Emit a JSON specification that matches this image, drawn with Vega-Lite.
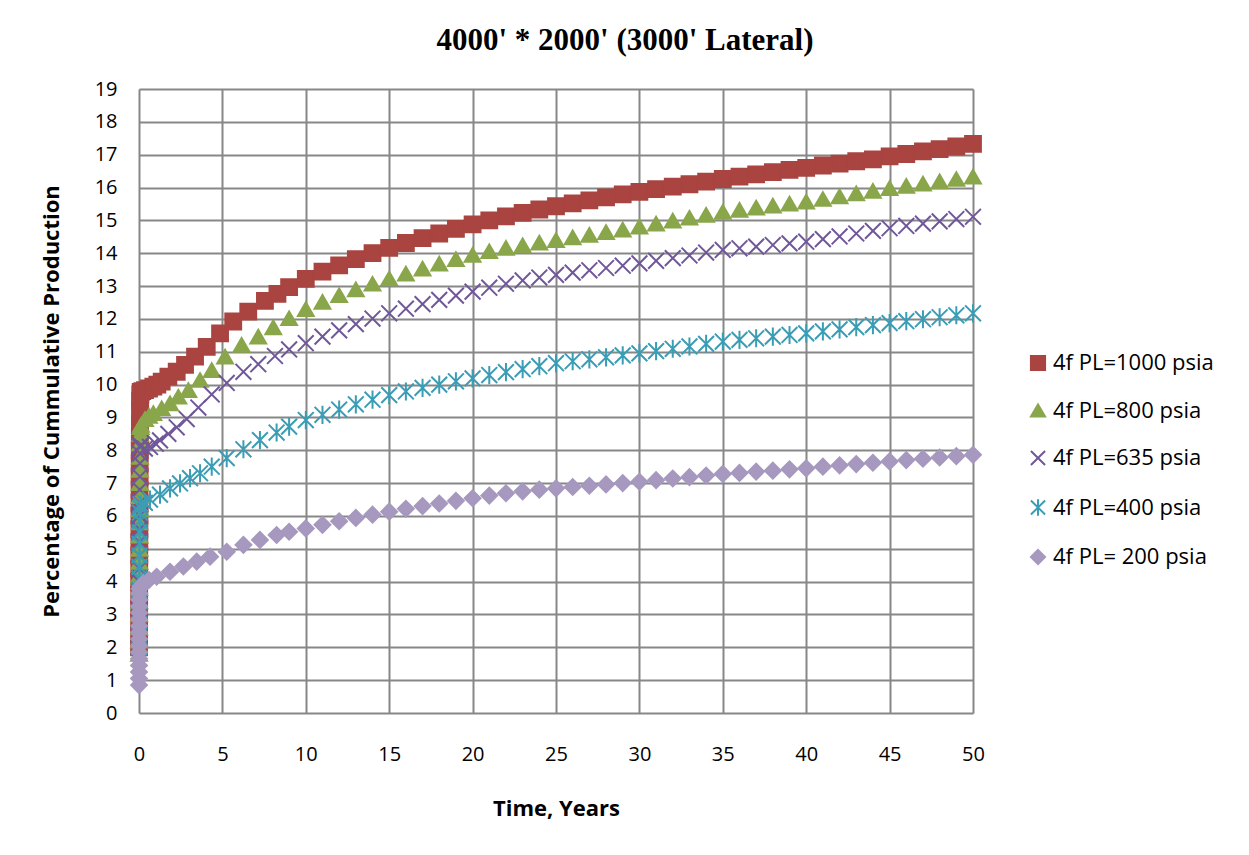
{
"$schema": "https://vega.github.io/schema/vega-lite/v6.json",
"width": 834, "height": 624,
"autosize": "none",
"padding": {"left": 139, "top": 89, "right": 276, "bottom": 142},
"background": "white",
"title": {"text": "4000' * 2000' (3000' Lateral)", "font": "Liberation Serif", "fontSize": 31, "fontWeight": "bold", "color": "black", "anchor": "middle", "dx": 69, "offset": 22},
"data": {"values": [
{"s":"4f PL=1000 psia","t":0.002,"v":2.0},{"s":"4f PL=1000 psia","t":0.004,"v":2.4},{"s":"4f PL=1000 psia","t":0.006,"v":2.8},{"s":"4f PL=1000 psia","t":0.008,"v":3.2},{"s":"4f PL=1000 psia","t":0.01,"v":3.6},{"s":"4f PL=1000 psia","t":0.012,"v":4.0},{"s":"4f PL=1000 psia","t":0.015,"v":4.4},{"s":"4f PL=1000 psia","t":0.018,"v":4.8},{"s":"4f PL=1000 psia","t":0.021,"v":5.2},{"s":"4f PL=1000 psia","t":0.024,"v":5.6},{"s":"4f PL=1000 psia","t":0.027,"v":6.0},{"s":"4f PL=1000 psia","t":0.03,"v":6.4},{"s":"4f PL=1000 psia","t":0.034,"v":6.8},{"s":"4f PL=1000 psia","t":0.038,"v":7.2},{"s":"4f PL=1000 psia","t":0.042,"v":7.6},{"s":"4f PL=1000 psia","t":0.046,"v":8.0},{"s":"4f PL=1000 psia","t":0.05,"v":8.4},{"s":"4f PL=1000 psia","t":0.055,"v":8.8},{"s":"4f PL=1000 psia","t":0.06,"v":9.2},{"s":"4f PL=1000 psia","t":0.07,"v":9.5},{"s":"4f PL=1000 psia","t":0.08,"v":9.7},{"s":"4f PL=1000 psia","t":0.1,"v":9.78},
{"s":"4f PL=1000 psia","t":0.2,"v":9.8},{"s":"4f PL=1000 psia","t":0.36,"v":9.83},{"s":"4f PL=1000 psia","t":0.6,"v":9.88},{"s":"4f PL=1000 psia","t":0.86,"v":9.94},{"s":"4f PL=1000 psia","t":1.1,"v":10.0},{"s":"4f PL=1000 psia","t":1.36,"v":10.09},{"s":"4f PL=1000 psia","t":1.76,"v":10.24},{"s":"4f PL=1000 psia","t":2.26,"v":10.39},{"s":"4f PL=1000 psia","t":2.76,"v":10.6},{"s":"4f PL=1000 psia","t":3.36,"v":10.85},{"s":"4f PL=1000 psia","t":4.06,"v":11.15},{"s":"4f PL=1000 psia","t":4.86,"v":11.56},{"s":"4f PL=1000 psia","t":5.65,"v":11.92},{"s":"4f PL=1000 psia","t":6.55,"v":12.22},{"s":"4f PL=1000 psia","t":7.55,"v":12.55},{"s":"4f PL=1000 psia","t":8.3,"v":12.76},
{"s":"4f PL=1000 psia","t":9,"v":12.97},{"s":"4f PL=1000 psia","t":10,"v":13.22},{"s":"4f PL=1000 psia","t":11,"v":13.44},{"s":"4f PL=1000 psia","t":12,"v":13.63},{"s":"4f PL=1000 psia","t":13,"v":13.82},{"s":"4f PL=1000 psia","t":14,"v":14.0},{"s":"4f PL=1000 psia","t":15,"v":14.16},{"s":"4f PL=1000 psia","t":16,"v":14.31},{"s":"4f PL=1000 psia","t":17,"v":14.46},{"s":"4f PL=1000 psia","t":18,"v":14.6},{"s":"4f PL=1000 psia","t":19,"v":14.74},{"s":"4f PL=1000 psia","t":20,"v":14.88},{"s":"4f PL=1000 psia","t":21,"v":15.0},{"s":"4f PL=1000 psia","t":22,"v":15.12},{"s":"4f PL=1000 psia","t":23,"v":15.23},{"s":"4f PL=1000 psia","t":24,"v":15.33},{"s":"4f PL=1000 psia","t":25,"v":15.43},{"s":"4f PL=1000 psia","t":26,"v":15.52},{"s":"4f PL=1000 psia","t":27,"v":15.61},{"s":"4f PL=1000 psia","t":28,"v":15.7},{"s":"4f PL=1000 psia","t":29,"v":15.79},{"s":"4f PL=1000 psia","t":30,"v":15.87},{"s":"4f PL=1000 psia","t":31,"v":15.95},{"s":"4f PL=1000 psia","t":32,"v":16.03},{"s":"4f PL=1000 psia","t":33,"v":16.1},{"s":"4f PL=1000 psia","t":34,"v":16.18},{"s":"4f PL=1000 psia","t":35,"v":16.26},{"s":"4f PL=1000 psia","t":36,"v":16.33},{"s":"4f PL=1000 psia","t":37,"v":16.4},{"s":"4f PL=1000 psia","t":38,"v":16.47},{"s":"4f PL=1000 psia","t":39,"v":16.54},{"s":"4f PL=1000 psia","t":40,"v":16.6},{"s":"4f PL=1000 psia","t":41,"v":16.67},{"s":"4f PL=1000 psia","t":42,"v":16.73},{"s":"4f PL=1000 psia","t":43,"v":16.8},{"s":"4f PL=1000 psia","t":44,"v":16.86},{"s":"4f PL=1000 psia","t":45,"v":16.95},{"s":"4f PL=1000 psia","t":46,"v":17.02},{"s":"4f PL=1000 psia","t":47,"v":17.1},{"s":"4f PL=1000 psia","t":48,"v":17.17},{"s":"4f PL=1000 psia","t":49,"v":17.25},{"s":"4f PL=1000 psia","t":50,"v":17.33},

{"s":"4f PL=800 psia","t":0.002,"v":1.8},{"s":"4f PL=800 psia","t":0.005,"v":2.2},{"s":"4f PL=800 psia","t":0.008,"v":2.6},{"s":"4f PL=800 psia","t":0.011,"v":3.0},{"s":"4f PL=800 psia","t":0.014,"v":3.4},{"s":"4f PL=800 psia","t":0.017,"v":3.8},{"s":"4f PL=800 psia","t":0.02,"v":4.2},{"s":"4f PL=800 psia","t":0.024,"v":4.6},{"s":"4f PL=800 psia","t":0.028,"v":5.0},{"s":"4f PL=800 psia","t":0.032,"v":5.4},{"s":"4f PL=800 psia","t":0.036,"v":5.8},{"s":"4f PL=800 psia","t":0.04,"v":6.2},{"s":"4f PL=800 psia","t":0.045,"v":6.6},{"s":"4f PL=800 psia","t":0.05,"v":7.0},{"s":"4f PL=800 psia","t":0.055,"v":7.4},{"s":"4f PL=800 psia","t":0.06,"v":7.8},{"s":"4f PL=800 psia","t":0.07,"v":8.2},{"s":"4f PL=800 psia","t":0.08,"v":8.5},{"s":"4f PL=800 psia","t":0.1,"v":8.7},
{"s":"4f PL=800 psia","t":0.12,"v":8.77},{"s":"4f PL=800 psia","t":0.36,"v":8.95},{"s":"4f PL=800 psia","t":0.6,"v":9.05},{"s":"4f PL=800 psia","t":0.86,"v":9.13},{"s":"4f PL=800 psia","t":1.36,"v":9.28},{"s":"4f PL=800 psia","t":1.86,"v":9.43},{"s":"4f PL=800 psia","t":2.36,"v":9.63},{"s":"4f PL=800 psia","t":2.96,"v":9.83},{"s":"4f PL=800 psia","t":3.66,"v":10.14},{"s":"4f PL=800 psia","t":4.36,"v":10.44},{"s":"4f PL=800 psia","t":5.16,"v":10.85},{"s":"4f PL=800 psia","t":6.15,"v":11.21},{"s":"4f PL=800 psia","t":7.15,"v":11.46},{"s":"4f PL=800 psia","t":8.05,"v":11.74},
{"s":"4f PL=800 psia","t":9,"v":12.02},{"s":"4f PL=800 psia","t":10,"v":12.3},{"s":"4f PL=800 psia","t":11,"v":12.52},{"s":"4f PL=800 psia","t":12,"v":12.72},{"s":"4f PL=800 psia","t":13,"v":12.9},{"s":"4f PL=800 psia","t":14,"v":13.07},{"s":"4f PL=800 psia","t":15,"v":13.23},{"s":"4f PL=800 psia","t":16,"v":13.38},{"s":"4f PL=800 psia","t":17,"v":13.53},{"s":"4f PL=800 psia","t":18,"v":13.68},{"s":"4f PL=800 psia","t":19,"v":13.82},{"s":"4f PL=800 psia","t":20,"v":13.95},{"s":"4f PL=800 psia","t":21,"v":14.06},{"s":"4f PL=800 psia","t":22,"v":14.16},{"s":"4f PL=800 psia","t":23,"v":14.24},{"s":"4f PL=800 psia","t":24,"v":14.32},{"s":"4f PL=800 psia","t":25,"v":14.4},{"s":"4f PL=800 psia","t":26,"v":14.48},{"s":"4f PL=800 psia","t":27,"v":14.56},{"s":"4f PL=800 psia","t":28,"v":14.64},{"s":"4f PL=800 psia","t":29,"v":14.72},{"s":"4f PL=800 psia","t":30,"v":14.81},{"s":"4f PL=800 psia","t":31,"v":14.9},{"s":"4f PL=800 psia","t":32,"v":14.99},{"s":"4f PL=800 psia","t":33,"v":15.08},{"s":"4f PL=800 psia","t":34,"v":15.17},{"s":"4f PL=800 psia","t":35,"v":15.26},{"s":"4f PL=800 psia","t":36,"v":15.32},{"s":"4f PL=800 psia","t":37,"v":15.39},{"s":"4f PL=800 psia","t":38,"v":15.45},{"s":"4f PL=800 psia","t":39,"v":15.51},{"s":"4f PL=800 psia","t":40,"v":15.57},{"s":"4f PL=800 psia","t":41,"v":15.65},{"s":"4f PL=800 psia","t":42,"v":15.73},{"s":"4f PL=800 psia","t":43,"v":15.82},{"s":"4f PL=800 psia","t":44,"v":15.9},{"s":"4f PL=800 psia","t":45,"v":15.98},{"s":"4f PL=800 psia","t":46,"v":16.05},{"s":"4f PL=800 psia","t":47,"v":16.12},{"s":"4f PL=800 psia","t":48,"v":16.19},{"s":"4f PL=800 psia","t":49,"v":16.26},{"s":"4f PL=800 psia","t":50,"v":16.33},

{"s":"4f PL=635 psia","t":0.003,"v":2.0},{"s":"4f PL=635 psia","t":0.006,"v":2.4},{"s":"4f PL=635 psia","t":0.009,"v":2.8},{"s":"4f PL=635 psia","t":0.012,"v":3.2},{"s":"4f PL=635 psia","t":0.015,"v":3.6},{"s":"4f PL=635 psia","t":0.018,"v":4.0},{"s":"4f PL=635 psia","t":0.021,"v":4.4},{"s":"4f PL=635 psia","t":0.025,"v":4.8},{"s":"4f PL=635 psia","t":0.029,"v":5.2},{"s":"4f PL=635 psia","t":0.033,"v":5.6},{"s":"4f PL=635 psia","t":0.037,"v":6.0},{"s":"4f PL=635 psia","t":0.042,"v":6.4},{"s":"4f PL=635 psia","t":0.047,"v":6.8},{"s":"4f PL=635 psia","t":0.052,"v":7.2},{"s":"4f PL=635 psia","t":0.058,"v":7.6},{"s":"4f PL=635 psia","t":0.065,"v":7.9},{"s":"4f PL=635 psia","t":0.08,"v":8.1},
{"s":"4f PL=635 psia","t":0.1,"v":8.15},{"s":"4f PL=635 psia","t":0.35,"v":8.05},{"s":"4f PL=635 psia","t":0.66,"v":8.1},{"s":"4f PL=635 psia","t":1.0,"v":8.2},{"s":"4f PL=635 psia","t":1.26,"v":8.3},{"s":"4f PL=635 psia","t":1.76,"v":8.5},{"s":"4f PL=635 psia","t":2.26,"v":8.7},{"s":"4f PL=635 psia","t":2.86,"v":8.95},{"s":"4f PL=635 psia","t":3.56,"v":9.3},{"s":"4f PL=635 psia","t":4.36,"v":9.7},{"s":"4f PL=635 psia","t":5.26,"v":10.05},{"s":"4f PL=635 psia","t":6.26,"v":10.39},{"s":"4f PL=635 psia","t":7.15,"v":10.62},{"s":"4f PL=635 psia","t":8.15,"v":10.87},
{"s":"4f PL=635 psia","t":9,"v":11.07},{"s":"4f PL=635 psia","t":10,"v":11.26},{"s":"4f PL=635 psia","t":11,"v":11.46},{"s":"4f PL=635 psia","t":12,"v":11.65},{"s":"4f PL=635 psia","t":13,"v":11.84},{"s":"4f PL=635 psia","t":14,"v":12.01},{"s":"4f PL=635 psia","t":15,"v":12.17},{"s":"4f PL=635 psia","t":16,"v":12.31},{"s":"4f PL=635 psia","t":17,"v":12.45},{"s":"4f PL=635 psia","t":18,"v":12.58},{"s":"4f PL=635 psia","t":19,"v":12.71},{"s":"4f PL=635 psia","t":20,"v":12.83},{"s":"4f PL=635 psia","t":21,"v":12.95},{"s":"4f PL=635 psia","t":22,"v":13.07},{"s":"4f PL=635 psia","t":23,"v":13.17},{"s":"4f PL=635 psia","t":24,"v":13.26},{"s":"4f PL=635 psia","t":25,"v":13.34},{"s":"4f PL=635 psia","t":26,"v":13.41},{"s":"4f PL=635 psia","t":27,"v":13.48},{"s":"4f PL=635 psia","t":28,"v":13.55},{"s":"4f PL=635 psia","t":29,"v":13.62},{"s":"4f PL=635 psia","t":30,"v":13.69},{"s":"4f PL=635 psia","t":31,"v":13.77},{"s":"4f PL=635 psia","t":32,"v":13.85},{"s":"4f PL=635 psia","t":33,"v":13.93},{"s":"4f PL=635 psia","t":34,"v":14.02},{"s":"4f PL=635 psia","t":35,"v":14.1},{"s":"4f PL=635 psia","t":36,"v":14.15},{"s":"4f PL=635 psia","t":37,"v":14.2},{"s":"4f PL=635 psia","t":38,"v":14.25},{"s":"4f PL=635 psia","t":39,"v":14.3},{"s":"4f PL=635 psia","t":40,"v":14.35},{"s":"4f PL=635 psia","t":41,"v":14.43},{"s":"4f PL=635 psia","t":42,"v":14.51},{"s":"4f PL=635 psia","t":43,"v":14.6},{"s":"4f PL=635 psia","t":44,"v":14.68},{"s":"4f PL=635 psia","t":45,"v":14.76},{"s":"4f PL=635 psia","t":46,"v":14.83},{"s":"4f PL=635 psia","t":47,"v":14.9},{"s":"4f PL=635 psia","t":48,"v":14.97},{"s":"4f PL=635 psia","t":49,"v":15.04},{"s":"4f PL=635 psia","t":50,"v":15.11},

{"s":"4f PL=400 psia","t":0.003,"v":2.0},{"s":"4f PL=400 psia","t":0.006,"v":2.35},{"s":"4f PL=400 psia","t":0.009,"v":2.7},{"s":"4f PL=400 psia","t":0.012,"v":3.05},{"s":"4f PL=400 psia","t":0.015,"v":3.4},{"s":"4f PL=400 psia","t":0.018,"v":3.75},{"s":"4f PL=400 psia","t":0.021,"v":4.1},{"s":"4f PL=400 psia","t":0.025,"v":4.45},{"s":"4f PL=400 psia","t":0.029,"v":4.8},{"s":"4f PL=400 psia","t":0.034,"v":5.15},{"s":"4f PL=400 psia","t":0.04,"v":5.5},{"s":"4f PL=400 psia","t":0.047,"v":5.85},{"s":"4f PL=400 psia","t":0.055,"v":6.1},{"s":"4f PL=400 psia","t":0.07,"v":6.25},
{"s":"4f PL=400 psia","t":0.1,"v":6.35},{"s":"4f PL=400 psia","t":0.35,"v":6.4},{"s":"4f PL=400 psia","t":0.66,"v":6.5},{"s":"4f PL=400 psia","t":1.26,"v":6.65},{"s":"4f PL=400 psia","t":1.86,"v":6.84},{"s":"4f PL=400 psia","t":2.46,"v":6.99},{"s":"4f PL=400 psia","t":3.06,"v":7.15},{"s":"4f PL=400 psia","t":3.66,"v":7.3},{"s":"4f PL=400 psia","t":4.36,"v":7.5},{"s":"4f PL=400 psia","t":5.26,"v":7.76},{"s":"4f PL=400 psia","t":6.26,"v":8.03},{"s":"4f PL=400 psia","t":7.25,"v":8.31},{"s":"4f PL=400 psia","t":8.25,"v":8.54},
{"s":"4f PL=400 psia","t":9,"v":8.72},{"s":"4f PL=400 psia","t":10,"v":8.92},{"s":"4f PL=400 psia","t":11,"v":9.08},{"s":"4f PL=400 psia","t":12,"v":9.24},{"s":"4f PL=400 psia","t":13,"v":9.4},{"s":"4f PL=400 psia","t":14,"v":9.54},{"s":"4f PL=400 psia","t":15,"v":9.68},{"s":"4f PL=400 psia","t":16,"v":9.79},{"s":"4f PL=400 psia","t":17,"v":9.9},{"s":"4f PL=400 psia","t":18,"v":10.0},{"s":"4f PL=400 psia","t":19,"v":10.1},{"s":"4f PL=400 psia","t":20,"v":10.19},{"s":"4f PL=400 psia","t":21,"v":10.29},{"s":"4f PL=400 psia","t":22,"v":10.38},{"s":"4f PL=400 psia","t":23,"v":10.47},{"s":"4f PL=400 psia","t":24,"v":10.56},{"s":"4f PL=400 psia","t":25,"v":10.65},{"s":"4f PL=400 psia","t":26,"v":10.71},{"s":"4f PL=400 psia","t":27,"v":10.77},{"s":"4f PL=400 psia","t":28,"v":10.83},{"s":"4f PL=400 psia","t":29,"v":10.89},{"s":"4f PL=400 psia","t":30,"v":10.95},{"s":"4f PL=400 psia","t":31,"v":11.02},{"s":"4f PL=400 psia","t":32,"v":11.09},{"s":"4f PL=400 psia","t":33,"v":11.16},{"s":"4f PL=400 psia","t":34,"v":11.24},{"s":"4f PL=400 psia","t":35,"v":11.31},{"s":"4f PL=400 psia","t":36,"v":11.36},{"s":"4f PL=400 psia","t":37,"v":11.41},{"s":"4f PL=400 psia","t":38,"v":11.46},{"s":"4f PL=400 psia","t":39,"v":11.51},{"s":"4f PL=400 psia","t":40,"v":11.56},{"s":"4f PL=400 psia","t":41,"v":11.62},{"s":"4f PL=400 psia","t":42,"v":11.68},{"s":"4f PL=400 psia","t":43,"v":11.75},{"s":"4f PL=400 psia","t":44,"v":11.81},{"s":"4f PL=400 psia","t":45,"v":11.87},{"s":"4f PL=400 psia","t":46,"v":11.93},{"s":"4f PL=400 psia","t":47,"v":11.99},{"s":"4f PL=400 psia","t":48,"v":12.05},{"s":"4f PL=400 psia","t":49,"v":12.11},{"s":"4f PL=400 psia","t":50,"v":12.17},

{"s":"4f PL= 200 psia","t":0.0,"v":0.85},{"s":"4f PL= 200 psia","t":0.001,"v":1.05},{"s":"4f PL= 200 psia","t":0.002,"v":1.25},{"s":"4f PL= 200 psia","t":0.003,"v":1.45},{"s":"4f PL= 200 psia","t":0.004,"v":1.65},{"s":"4f PL= 200 psia","t":0.005,"v":1.85},{"s":"4f PL= 200 psia","t":0.006,"v":2.05},{"s":"4f PL= 200 psia","t":0.007,"v":2.25},{"s":"4f PL= 200 psia","t":0.008,"v":2.45},{"s":"4f PL= 200 psia","t":0.009,"v":2.65},{"s":"4f PL= 200 psia","t":0.01,"v":2.85},{"s":"4f PL= 200 psia","t":0.012,"v":3.05},{"s":"4f PL= 200 psia","t":0.014,"v":3.25},{"s":"4f PL= 200 psia","t":0.017,"v":3.45},{"s":"4f PL= 200 psia","t":0.02,"v":3.65},{"s":"4f PL= 200 psia","t":0.03,"v":3.78},
{"s":"4f PL= 200 psia","t":0.1,"v":3.85},{"s":"4f PL= 200 psia","t":0.26,"v":3.95},{"s":"4f PL= 200 psia","t":0.6,"v":4.05},{"s":"4f PL= 200 psia","t":1.06,"v":4.15},{"s":"4f PL= 200 psia","t":1.86,"v":4.3},{"s":"4f PL= 200 psia","t":2.66,"v":4.46},{"s":"4f PL= 200 psia","t":3.46,"v":4.61},{"s":"4f PL= 200 psia","t":4.26,"v":4.76},{"s":"4f PL= 200 psia","t":5.26,"v":4.91},{"s":"4f PL= 200 psia","t":6.26,"v":5.12},{"s":"4f PL= 200 psia","t":7.25,"v":5.27},{"s":"4f PL= 200 psia","t":8.25,"v":5.42},
{"s":"4f PL= 200 psia","t":9,"v":5.52},{"s":"4f PL= 200 psia","t":10,"v":5.62},{"s":"4f PL= 200 psia","t":11,"v":5.73},{"s":"4f PL= 200 psia","t":12,"v":5.84},{"s":"4f PL= 200 psia","t":13,"v":5.94},{"s":"4f PL= 200 psia","t":14,"v":6.04},{"s":"4f PL= 200 psia","t":15,"v":6.13},{"s":"4f PL= 200 psia","t":16,"v":6.22},{"s":"4f PL= 200 psia","t":17,"v":6.3},{"s":"4f PL= 200 psia","t":18,"v":6.38},{"s":"4f PL= 200 psia","t":19,"v":6.46},{"s":"4f PL= 200 psia","t":20,"v":6.54},{"s":"4f PL= 200 psia","t":21,"v":6.62},{"s":"4f PL= 200 psia","t":22,"v":6.69},{"s":"4f PL= 200 psia","t":23,"v":6.75},{"s":"4f PL= 200 psia","t":24,"v":6.8},{"s":"4f PL= 200 psia","t":25,"v":6.84},{"s":"4f PL= 200 psia","t":26,"v":6.88},{"s":"4f PL= 200 psia","t":27,"v":6.92},{"s":"4f PL= 200 psia","t":28,"v":6.96},{"s":"4f PL= 200 psia","t":29,"v":7.0},{"s":"4f PL= 200 psia","t":30,"v":7.04},{"s":"4f PL= 200 psia","t":31,"v":7.09},{"s":"4f PL= 200 psia","t":32,"v":7.14},{"s":"4f PL= 200 psia","t":33,"v":7.18},{"s":"4f PL= 200 psia","t":34,"v":7.23},{"s":"4f PL= 200 psia","t":35,"v":7.28},{"s":"4f PL= 200 psia","t":36,"v":7.31},{"s":"4f PL= 200 psia","t":37,"v":7.35},{"s":"4f PL= 200 psia","t":38,"v":7.38},{"s":"4f PL= 200 psia","t":39,"v":7.42},{"s":"4f PL= 200 psia","t":40,"v":7.45},{"s":"4f PL= 200 psia","t":41,"v":7.5},{"s":"4f PL= 200 psia","t":42,"v":7.54},{"s":"4f PL= 200 psia","t":43,"v":7.58},{"s":"4f PL= 200 psia","t":44,"v":7.62},{"s":"4f PL= 200 psia","t":45,"v":7.66},{"s":"4f PL= 200 psia","t":46,"v":7.7},{"s":"4f PL= 200 psia","t":47,"v":7.74},{"s":"4f PL= 200 psia","t":48,"v":7.78},{"s":"4f PL= 200 psia","t":49,"v":7.82},{"s":"4f PL= 200 psia","t":50,"v":7.86}
]},
"mark": {"type": "point", "filled": true, "strokeWidth": 2, "size": 250, "opacity": 1},
"encoding": {
  "x": {"field": "t", "type": "quantitative", "scale": {"domain": [0, 50], "nice": false, "zero": false},
        "axis": {"values": [0,5,10,15,20,25,30,35,40,45,50], "title": "Time, Years", "labelPadding": 31, "titlePadding": 34, "labelFlush": false}},
  "y": {"field": "v", "type": "quantitative", "scale": {"domain": [0, 19], "nice": false, "zero": false},
        "axis": {"values": [0,1,2,3,4,5,6,7,8,9,10,11,12,13,14,15,16,17,18,19], "title": "Percentage of Cummulative Production", "labelPadding": 22, "titlePadding": 31, "labelFlush": false}},
  "fill": {"field": "s", "type": "nominal", "scale": {"domain": ["4f PL=1000 psia","4f PL=800 psia","4f PL=635 psia","4f PL=400 psia","4f PL= 200 psia"], "range": ["#A94441","#8AA64B","#70579A","#3B9DB5","#A698BE"]}, "legend": {"title": null}},
  "stroke": {"field": "s", "type": "nominal", "scale": {"domain": ["4f PL=1000 psia","4f PL=800 psia","4f PL=635 psia","4f PL=400 psia","4f PL= 200 psia"], "range": ["#A94441","#8AA64B","#70579A","#3B9DB5","#A698BE"]}, "legend": {"title": null}},
  "shape": {"field": "s", "type": "nominal", "scale": {"domain": ["4f PL=1000 psia","4f PL=800 psia","4f PL=635 psia","4f PL=400 psia","4f PL= 200 psia"], "range": ["square","triangle-up","M-1,-1L1,1M-1,1L1,-1","M-1,-1L1,1M-1,1L1,-1M0,-1.15L0,1.15","diamond"]}, "legend": {"title": null}}
},
"config": {
  "view": {"stroke": null},
  "axis": {"grid": true, "gridColor": "#878787", "gridWidth": 2, "domain": false, "ticks": false,
           "labelFont": "Open Sans", "labelFontSize": 20, "labelColor": "black",
           "titleFont": "Open Sans", "titleFontSize": 22, "titleFontWeight": "bold", "titleColor": "black"},
  "legend": {"orient": "none", "legendX": 888, "legendY": 263, "labelFont": "Open Sans", "labelFontSize": 22, "labelColor": "black",
             "symbolSize": 200, "symbolStrokeWidth": 2, "rowPadding": 24.5, "labelOffset": 4, "labelLimit": 300}
}
}
